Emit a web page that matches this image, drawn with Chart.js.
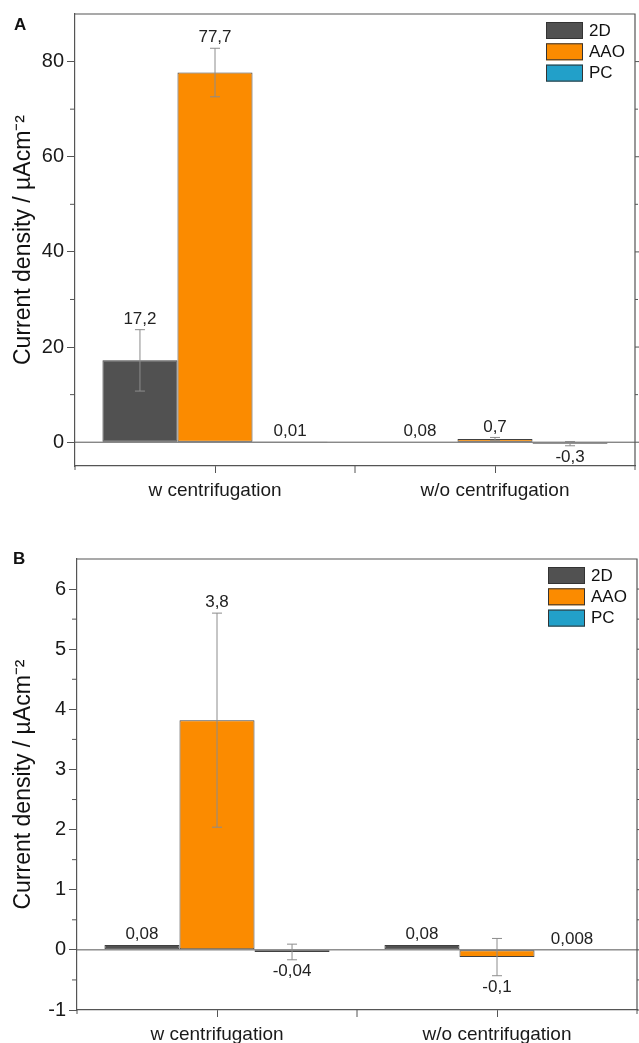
<!DOCTYPE html>
<html>
<head>
<meta charset="utf-8">
<script src="https://cdn.jsdelivr.net/npm/chart.js@4.4.1/dist/chart.umd.min.js"></script>
<style>
  body { margin: 0; background: #fff; width: 639px; height: 1043px; overflow: hidden; position: relative;
         font-family: 'Liberation Sans', Arial, sans-serif; }
  .panel { position: absolute; left: 0; width: 639px; }
  .letter { position: absolute; font-weight: bold; font-size: 17px; line-height: 17px; color: #111; }
</style>
</head>
<body>
<div class="panel" style="top:0;height:520px"><canvas id="chartA"></canvas></div>
<div class="panel" style="top:520px;height:523px"><canvas id="chartB"></canvas></div>
<div class="letter" style="left:14px;top:16px">A</div>
<div class="letter" style="left:13px;top:550px">B</div>
<script>
var categories  = ['w centrifugation', 'w/o centrifugation'];
var seriesNames = ['2D', 'AAO', 'PC'];

// panel A, current density in µA/cm2
var a2D  = [17.2, 0.08];
var aAAO = [77.7, 0.7];
var aPC  = [0.01, -0.3];
var a2DErr  = [6.45, 0];
var aAAOErr = [5.1, 0.3];
var aPCErr  = [0, 0.45];
var a2DText  = ['17,2', '0,08'];
var aAAOText = ['77,7', '0,7'];
var aPCText  = ['0,01', '-0,3'];
var aTicks      = [0, 20, 40, 60, 80];
var aMinorTicks = [10, 30, 50, 70];

// panel B
var b2D  = [0.08, 0.08];
var bAAO = [3.82, -0.12];
var bPC  = [-0.035, 0.008];
var b2DErr  = [0, 0];
var bAAOErr = [1.78, 0.31];
var bPCErr  = [0.13, 0];
var b2DText  = ['0,08', '0,08'];
var bAAOText = ['3,8', '-0,1'];
var bPCText  = ['-0,04', '0,008'];
var bTicks      = [-1, 0, 1, 2, 3, 4, 5, 6];
var bMinorTicks = [-0.5, 0.5, 1.5, 2.5, 3.5, 4.5, 5.5];

var fills   = ['#515151', '#fb8b00', '#22a0c9'];
var axisCol = '#555';
var family  = "'Liberation Sans', Arial, sans-serif";

// frame, zero line, extra ticks, error bars, value labels and legend
var decorPlugin = {
  id: 'decor',
  afterDatasetsDraw: function(chart, args, opts) {
    var ctx = chart.ctx, area = chart.chartArea;
    var xs = chart.scales.x, ys = chart.scales.y;
    ctx.save();
    ctx.strokeStyle = axisCol;
    ctx.lineWidth = 1.2;
    ctx.beginPath();
    ctx.moveTo(area.left, area.top);
    ctx.lineTo(area.right, area.top);
    ctx.lineTo(area.right, area.bottom);
    ctx.stroke();

    ctx.lineWidth = 1;
    var y0 = ys.getPixelForValue(0);
    ctx.beginPath();
    ctx.moveTo(area.left, y0);
    ctx.lineTo(area.right, y0);
    ctx.stroke();

    ctx.beginPath();
    opts.ticks.forEach(function(v) {
      var p = ys.getPixelForValue(v);
      ctx.moveTo(area.right, p); ctx.lineTo(area.right + 4, p);
    });
    opts.minorTicks.forEach(function(v) {
      var p = ys.getPixelForValue(v);
      ctx.moveTo(area.left - 5, p); ctx.lineTo(area.left, p);
      ctx.moveTo(area.right, p); ctx.lineTo(area.right + 3, p);
    });
    var mid = (xs.getPixelForValue(0) + xs.getPixelForValue(1)) / 2;
    ctx.moveTo(mid, area.bottom); ctx.lineTo(mid, area.bottom + 7);
    ctx.moveTo(area.left, area.bottom); ctx.lineTo(area.left, area.bottom + 4);
    ctx.moveTo(area.right, area.bottom); ctx.lineTo(area.right, area.bottom + 4);
    ctx.stroke();

    ctx.font = '17px ' + family;
    ctx.textAlign = 'center';
    chart.data.datasets.forEach(function(ds, i) {
      var meta = chart.getDatasetMeta(i);
      meta.data.forEach(function(bar, j) {
        var v = ds.data[j], err = ds.errors[j];
        var top = ys.getPixelForValue(v + err), bottom = ys.getPixelForValue(v - err);
        if (err > 0) {
          ctx.strokeStyle = '#8c8c8c';
          ctx.beginPath();
          ctx.moveTo(bar.x, top); ctx.lineTo(bar.x, bottom);
          ctx.moveTo(bar.x - 5, top); ctx.lineTo(bar.x + 5, top);
          ctx.moveTo(bar.x - 5, bottom); ctx.lineTo(bar.x + 5, bottom);
          ctx.stroke();
        }
        ctx.fillStyle = '#222';
        if (v >= 0) {
          ctx.textBaseline = 'bottom';
          ctx.fillText(ds.valueText[j], bar.x, Math.min(top, ys.getPixelForValue(v)) - 2);
        } else {
          ctx.textBaseline = 'top';
          ctx.fillText(ds.valueText[j], bar.x, Math.max(bottom, ys.getPixelForValue(v)) + 3);
        }
      });
    });

    // legend in the upper right corner
    ctx.font = '17px ' + family;
    ctx.textAlign = 'left';
    ctx.textBaseline = 'middle';
    chart.data.datasets.forEach(function(ds, i) {
      var bx = area.right - 89, by = area.top + 8 + i * 21.3;
      ctx.fillStyle = ds.backgroundColor;
      ctx.fillRect(bx, by, 37, 17);
      ctx.strokeStyle = '#333';
      ctx.strokeRect(bx + 0.5, by + 0.5, 36, 16);
      ctx.fillStyle = '#111';
      ctx.fillText(ds.label, bx + 43, by + 9);
    });
    ctx.restore();
  }
};

function buildChart(id, series, errors, texts, ticks, minorTicks, yMin, yMax, box) {
  var datasets = series.map(function(values, i) {
    return {
      label: seriesNames[i],
      data: values,
      errors: errors[i],
      valueText: texts[i],
      backgroundColor: fills[i],
      borderColor: '#404040',
      borderWidth: 1,
      borderSkipped: false
    };
  });

  return new Chart(document.getElementById(id).getContext('2d'), {
    type: 'bar',
    data: { labels: categories, datasets: datasets },
    plugins: [decorPlugin],
    options: {
      responsive: true,
      maintainAspectRatio: false,
      animation: false,
      layout: { padding: { top: box.top, right: box.right, left: 0, bottom: 0 } },
      datasets: { bar: { barPercentage: 1, categoryPercentage: 0.804 } },
      plugins: {
        legend: { display: false },
        tooltip: { enabled: false },
        decor: { ticks: ticks, minorTicks: minorTicks }
      },
      scales: {
        x: {
          grid: { drawOnChartArea: false, offset: false, tickLength: 7, color: axisCol },
          border: { color: axisCol, width: 1.2 },
          ticks: { font: { family: family, size: 19 }, color: '#1a1a1a', padding: 6 },
          afterFit: function(s) { s.height = box.xHeight; s.paddingLeft = 0; s.paddingRight = 0; }
        },
        y: {
          min: yMin,
          max: yMax,
          afterBuildTicks: function(s) { s.ticks = ticks.map(function(v) { return { value: v }; }); },
          grid: { drawOnChartArea: false, tickLength: 8, color: axisCol },
          border: { color: axisCol, width: 1.2 },
          ticks: {
            font: { family: family, size: 20 }, color: '#1a1a1a', padding: 3,
            callback: function(v) { return String(v); }
          },
          title: {
            display: true,
            text: 'Current density / µAcm⁻²',
            font: { family: family, size: 23 },
            color: '#111',
            padding: { top: 10, bottom: 0 }
          },
          afterFit: function(s) { s.width = box.left; s.paddingTop = 0; s.paddingBottom = 0; }
        }
      }
    }
  });
}

buildChart('chartA', [a2D, aAAO, aPC], [a2DErr, aAAOErr, aPCErr], [a2DText, aAAOText, aPCText],
  aTicks, aMinorTicks, -5, 90, { left: 75, top: 14, right: 4, xHeight: 54 });
buildChart('chartB', [b2D, bAAO, bPC], [b2DErr, bAAOErr, bPCErr], [b2DText, bAAOText, bPCText],
  bTicks, bMinorTicks, -1, 6.5, { left: 77, top: 39, right: 2, xHeight: 33 });
</script>
</body>
</html>
